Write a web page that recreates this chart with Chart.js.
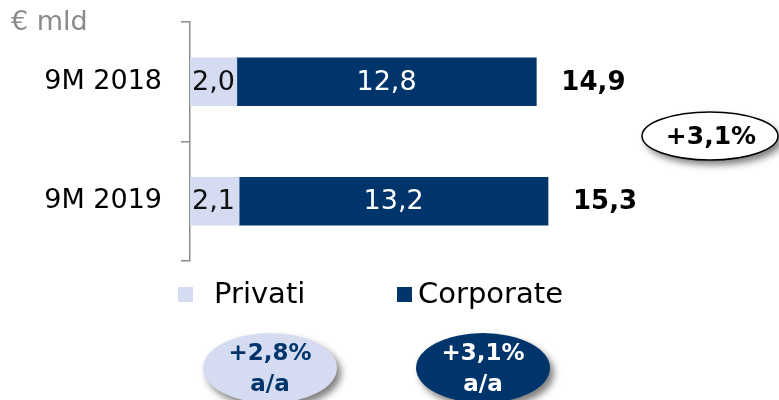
<!DOCTYPE html>
<html>
<head>
<meta charset="utf-8">
<script src="https://cdn.jsdelivr.net/npm/chart.js@4/dist/chart.umd.min.js"></script>
<style>
  html, body { margin: 0; padding: 0; background: #fff; }
  #wrap { width: 779px; height: 400px; }
</style>
</head>
<body>
<div id="wrap"><canvas id="chart"></canvas></div>
<script>
const categories = ['9M 2018', '9M 2019'];
const privati = [2.0, 2.1];
const corporate = [12.8, 13.2];
const totals = [14.9, 15.3];
const seriesNames = ['Privati', 'Corporate'];
const totalGrowth = '+3,1%';
const seriesGrowth = ['+2,8%', '+3,1%'];
const unitLabel = '€ mld';

const navy = '#00356b';
const lilac = '#d5dcf1';
const font = '"DejaVu Sans", sans-serif';

const fmt = v => v.toFixed(1).replace('.', ',');

function ellipse(ctx, cx, cy, rx, ry, fill, stroke) {
  ctx.save();
  ctx.shadowColor = 'rgba(0,0,0,0.5)';
  ctx.shadowBlur = 7;
  ctx.shadowOffsetX = 4;
  ctx.shadowOffsetY = 5;
  ctx.beginPath();
  ctx.ellipse(cx, cy, rx, ry, 0, 0, Math.PI * 2);
  ctx.fillStyle = fill;
  ctx.fill();
  ctx.restore();
  if (stroke) {
    ctx.beginPath();
    ctx.ellipse(cx, cy, rx, ry, 0, 0, Math.PI * 2);
    ctx.lineWidth = 1.5;
    ctx.strokeStyle = stroke;
    ctx.stroke();
  }
}

const extras = {
  id: 'extras',
  afterDatasetsDraw(chart) {
    const ctx = chart.ctx;
    ctx.save();
    ctx.textBaseline = 'middle';
    ctx.font = '27px ' + font;
    // values inside the bars
    chart.getDatasetMeta(0).data.forEach((bar, i) => {
      ctx.fillStyle = '#111';
      ctx.textAlign = 'left';
      ctx.fillText(fmt(privati[i]), bar.base + 2, bar.y + 1);
    });
    chart.getDatasetMeta(1).data.forEach((bar, i) => {
      ctx.fillStyle = '#fff';
      ctx.textAlign = 'center';
      ctx.fillText(fmt(corporate[i]), (bar.base + bar.x) / 2, bar.y + 1);
      // totals
      ctx.fillStyle = '#000';
      ctx.textAlign = 'left';
      ctx.font = 'bold 26px ' + font;
      ctx.fillText(fmt(totals[i]), bar.x + 25, bar.y + 1);
      ctx.font = '27px ' + font;
    });
    ctx.restore();
  },
  afterDraw(chart) {
    const ctx = chart.ctx;
    ctx.save();
    ctx.textBaseline = 'middle';

    // unit
    ctx.fillStyle = '#8a8a8a';
    ctx.font = '27px ' + font;
    ctx.textAlign = 'left';
    ctx.fillText(unitLabel, 11, 23);

    // legend
    const colors = [lilac, navy];
    const legendX = [178, 397];
    ctx.font = '29px ' + font;
    seriesNames.forEach((name, i) => {
      ctx.fillStyle = colors[i];
      ctx.fillRect(legendX[i], 287, 15, 15);
      ctx.fillStyle = '#000';
      ctx.fillText(name, legendX[i] + (i === 0 ? 36 : 21), 295);
    });

    // total growth bubble
    ellipse(ctx, 710, 136, 68, 24, '#fff', '#000');
    ctx.fillStyle = '#000';
    ctx.textAlign = 'center';
    ctx.font = 'bold 25px ' + font;
    ctx.fillText(totalGrowth, 711, 137);

    // series growth bubbles
    const bx = [270, 483];
    const textCol = [navy, '#fff'];
    seriesGrowth.forEach((g, i) => {
      ellipse(ctx, bx[i], 368, 67, 35, colors[i]);
      ctx.fillStyle = textCol[i];
      ctx.font = 'bold 23px ' + font;
      ctx.fillText(g, bx[i], 354);
      ctx.fillText('a/a', bx[i], 385);
    });
    ctx.restore();
  }
};

new Chart(document.getElementById('chart'), {
  type: 'bar',
  data: {
    labels: categories,
    datasets: [
      { label: seriesNames[0], data: privati, backgroundColor: lilac, barThickness: 48 },
      { label: seriesNames[1], data: corporate, backgroundColor: navy, barThickness: 48 }
    ]
  },
  options: {
    indexAxis: 'y',
    responsive: true,
    maintainAspectRatio: false,
    animation: false,
    layout: { padding: { top: 22, bottom: 139, left: 0, right: 4 } },
    plugins: {
      legend: { display: false },
      tooltip: { enabled: false }
    },
    scales: {
      x: { stacked: true, min: 0, max: 25, display: false },
      y: {
        stacked: true,
        grid: { drawOnChartArea: false, offset: true, color: '#8c8c8c', lineWidth: 1.5, tickLength: 9 },
        border: { color: '#8c8c8c', width: 1.5 },
        ticks: { color: '#000', font: { family: font, size: 27 }, padding: 19 },
        afterFit: s => { s.width = 190; s.paddingTop = 0; s.paddingBottom = 0; }
      }
    }
  },
  plugins: [extras]
});
</script>
</body>
</html>
